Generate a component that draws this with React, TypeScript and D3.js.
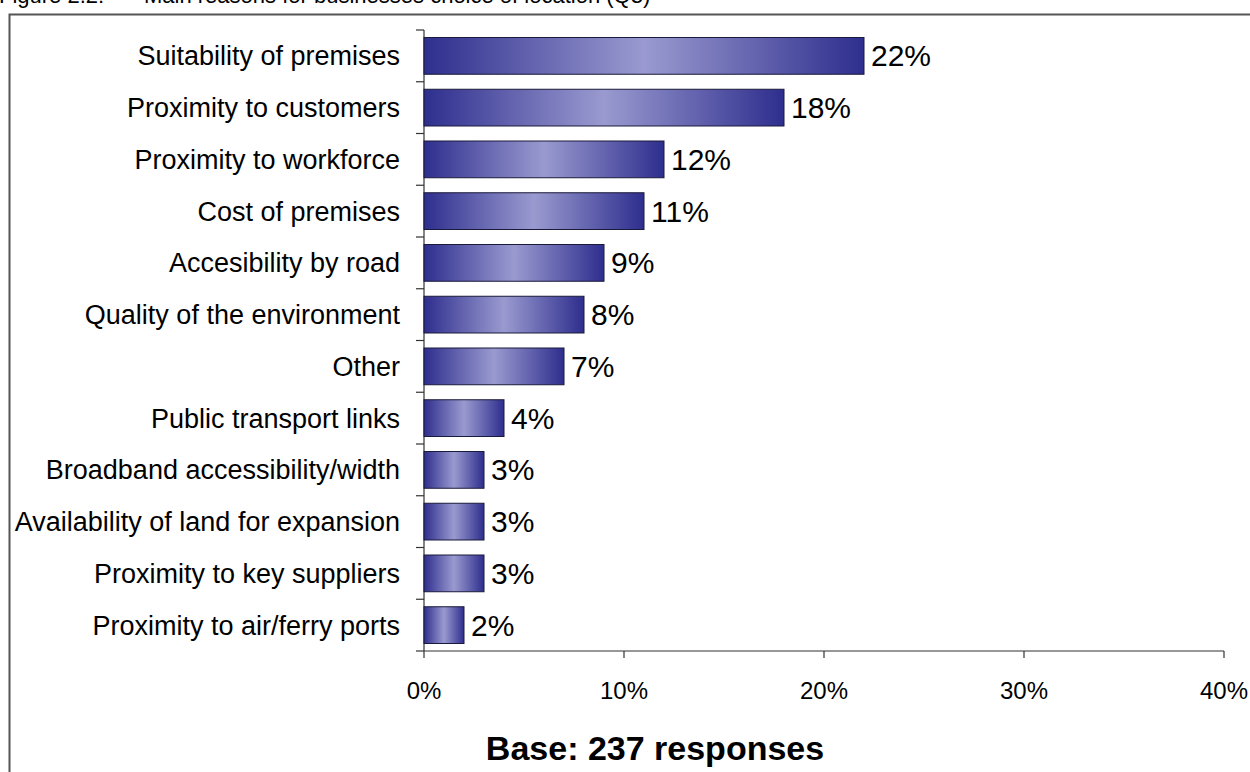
import React from "react";
import * as d3 from "d3";

const categories = [
  "Suitability of premises",
  "Proximity to customers",
  "Proximity to workforce",
  "Cost of premises",
  "Accesibility by road",
  "Quality of the environment",
  "Other",
  "Public transport links",
  "Broadband accessibility/width",
  "Availability of land for expansion",
  "Proximity to key suppliers",
  "Proximity to air/ferry ports",
];
const values = [22, 18, 12, 11, 9, 8, 7, 4, 3, 3, 3, 2];
const xTicks = [0, 10, 20, 30, 40];
const titleLabel = "Figure 2.2:";
const titleText = "Main reasons for businesses choice of location (Q3)";
const baseText = "Base: 237 responses";

const W = 1250;
const H = 772;
const FONT = "'Liberation Sans', Arial, Helvetica, sans-serif";

export default function App() {
  const x = d3.scaleLinear().domain([0, 40]).range([424, 1224]);
  const y = d3.scaleBand().domain(categories).range([30, 651]).paddingInner(0.29).paddingOuter(0.145);
  const bandStep = y.step();

  return (
    <svg width={W} height={H} style={{ position: "absolute", left: 0, top: 0, background: "#fff" }}>
      <defs>
        <linearGradient id="barGrad" x1="0" x2="1" y1="0" y2="0">
          <stop offset="0%" stopColor="#2e2e8e" />
          <stop offset="50%" stopColor="#9a9ad0" />
          <stop offset="100%" stopColor="#2e2e8e" />
        </linearGradient>
      </defs>
      <rect x={0} y={0} width={W} height={H} fill="#fff" />
      <text x={-1} y={3} fontFamily={FONT} fontSize={22} fill="#000">
        {titleLabel}
      </text>
      <text x={144} y={3} fontFamily={FONT} fontSize={22} fill="#000">
        {titleText}
      </text>
      <rect x={9.5} y={14.5} width={W + 20} height={H + 20} fill="none" stroke="#555" strokeWidth={2} />

      {/* y axis */}
      <line x1={424} x2={424} y1={30} y2={651} stroke="#333" strokeWidth={1.2} />
      {d3.range(categories.length + 1).map((i) => {
        const yy = 30 + i * bandStep;
        return <line key={"yt" + i} x1={416} x2={424} y1={yy} y2={yy} stroke="#333" strokeWidth={1.2} />;
      })}
      {/* x axis */}
      <line x1={424} x2={1224} y1={651} y2={651} stroke="#333" strokeWidth={1.2} />
      {xTicks.map((t) => (
        <g key={"xt" + t}>
          <line x1={x(t)} x2={x(t)} y1={651} y2={658} stroke="#333" strokeWidth={1.2} />
          <text x={x(t)} y={699} textAnchor="middle" fontFamily={FONT} fontSize={24} fill="#000">
            {t + "%"}
          </text>
        </g>
      ))}

      {categories.map((c, i) => {
        const yy = y(c)!;
        const bh = y.bandwidth();
        const w = x(values[i]) - x(0);
        return (
          <g key={c}>
            <text x={400} y={yy + bh / 2 + 9.5} textAnchor="end" fontFamily={FONT} fontSize={27} fill="#000">
              {c}
            </text>
            <rect x={x(0)} y={yy} width={w} height={bh} fill="url(#barGrad)" stroke="#1a1a3a" strokeWidth={1} />
            <text x={x(values[i]) + 7} y={yy + bh / 2 + 10.5} fontFamily={FONT} fontSize={30} fill="#000">
              {values[i] + "%"}
            </text>
          </g>
        );
      })}

      <text x={655} y={760} textAnchor="middle" fontFamily={FONT} fontSize={34} fontWeight="bold" fill="#000">
        {baseText}
      </text>
    </svg>
  );
}
